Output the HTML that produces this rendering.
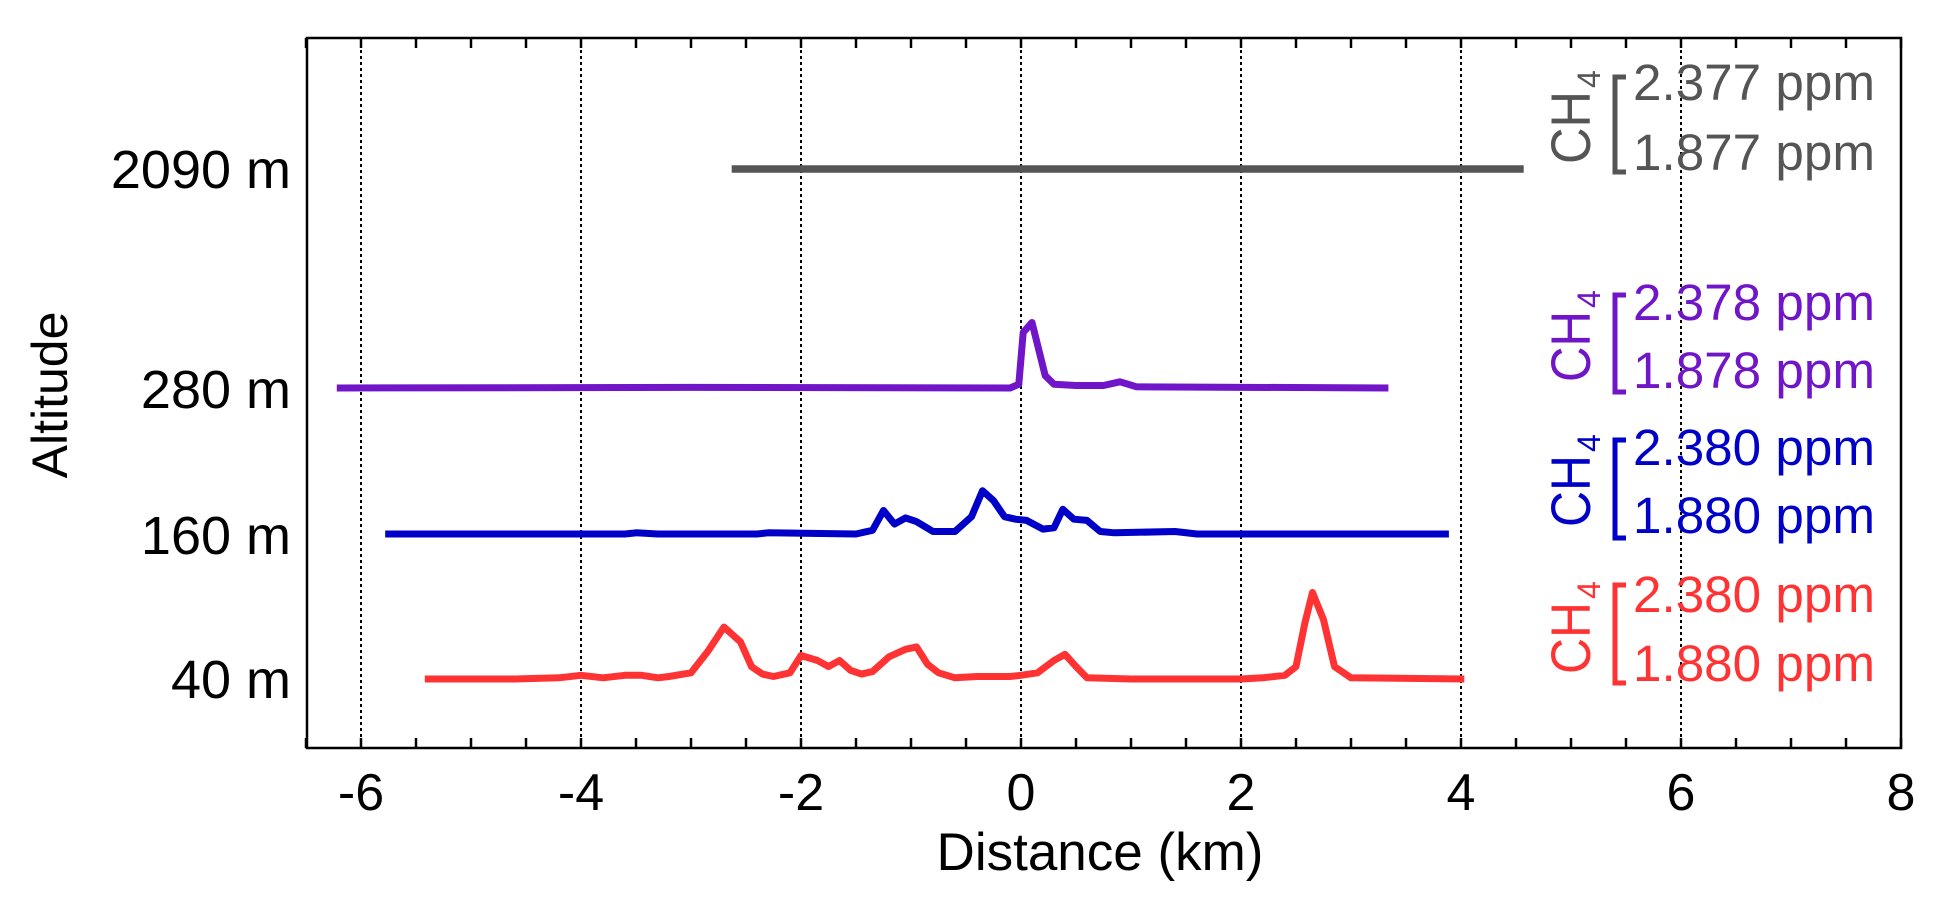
<!DOCTYPE html>
<html><head><meta charset="utf-8"><style>
html,body{margin:0;padding:0;background:#fff;}
svg{display:block;font-family:"Liberation Sans",Arial,sans-serif;}
</style></head><body>
<svg id="s" width="1938" height="899" viewBox="0 0 1938 899" xmlns="http://www.w3.org/2000/svg">
<rect x="0" y="0" width="1938" height="899" fill="#fff"/>
<g id="grid" stroke="#000" stroke-width="2" stroke-dasharray="3,3"></g>
<g id="ticks" stroke="#000" stroke-width="2.5"></g>
<rect x="307" y="38" width="1594" height="710" fill="none" stroke="#000" stroke-width="2.5"/>
<g font-size="52" text-anchor="middle" fill="#000">
<text x="361" y="810">-6</text><text x="581" y="810">-4</text><text x="801" y="810">-2</text>
<text x="1021" y="810">0</text><text x="1241" y="810">2</text><text x="1461" y="810">4</text>
<text x="1681" y="810">6</text><text x="1901" y="810">8</text>
<text x="1100" y="870" font-size="53">Distance (km)</text>
</g>
<g font-size="54" text-anchor="end" fill="#000">
<text x="291" y="188">2090 m</text><text x="291" y="408">280 m</text>
<text x="291" y="554">160 m</text><text x="291" y="698">40 m</text>
</g>
<text transform="translate(67,395) rotate(-90)" font-size="50" text-anchor="middle">Altitude</text>
<g id="series" fill="none" stroke-linejoin="round"></g>
<g id="legend"></g>
</svg>
<script>
var NS="http://www.w3.org/2000/svg";
function X(d){return 361+(d+6)*110;}
function el(p,t,a,txt){var e=document.createElementNS(NS,t);for(var k in a)e.setAttribute(k,a[k]);if(txt)e.textContent=txt;p.appendChild(e);return e;}
var g=document.getElementById('grid');
for(var d=-6;d<=6;d+=2){el(g,'line',{x1:X(d),x2:X(d),y1:38,y2:748});}
var t=document.getElementById('ticks');
for(var d=-6.5;d<=8.001;d+=0.5){var x=X(d);el(t,'line',{x1:x,x2:x,y1:748,y2:738});el(t,'line',{x1:x,x2:x,y1:38,y2:48});}
var S=document.getElementById('series');
function line(pts,base,col,w){var s=pts.map(function(p){return X(p[0]).toFixed(1)+','+(base-p[1]*1.236).toFixed(1);}).join(' ');el(S,'polyline',{points:s,stroke:col,'stroke-width':w||7});}
line([[-2.63,0],[4.57,0]],169,'#555555',7.5);
line([[-6.22,0],[-3,0.5],[-0.1,0],[-0.02,3],[0.02,45],[0.1,53],[0.22,10],[0.3,3],[0.5,2],[0.75,2],[0.9,5],[1.05,1],[3.34,0]],388,'#7015c8');
line([[-5.78,0],[-3.6,0],[-3.5,1],[-3.3,0],[-2.4,0],[-2.3,1],[-1.5,0],[-1.35,3],[-1.25,19],[-1.15,8],[-1.05,13],[-0.95,10],[-0.8,2],[-0.6,2],[-0.45,14],[-0.35,35],[-0.25,27],[-0.15,14],[-0.05,12],[0.05,11],[0.2,4],[0.3,5],[0.38,20],[0.48,12],[0.6,11],[0.72,2],[0.85,1],[1.4,2],[1.6,0],[3.89,0]],534,'#0000c8');
line([[-5.42,0],[-4.6,0],[-4.2,1],[-4.0,3],[-3.8,1],[-3.6,3],[-3.45,3],[-3.3,1],[-3.2,2],[-3.0,5],[-2.85,22],[-2.7,42],[-2.55,30],[-2.45,10],[-2.35,4],[-2.25,2],[-2.1,5],[-2.0,19],[-1.85,15],[-1.75,10],[-1.65,15],[-1.55,7],[-1.45,4],[-1.35,6],[-1.2,18],[-1.05,24],[-0.95,26],[-0.85,12],[-0.75,5],[-0.6,1],[-0.4,2],[-0.1,2],[0.0,3],[0.15,5],[0.3,15],[0.4,20],[0.5,10],[0.6,1],[1.0,0],[2.0,0],[2.2,1],[2.4,3],[2.5,10],[2.58,45],[2.65,70],[2.75,48],[2.85,10],[3.0,1],[4.03,0]],679,'#ff3333');
var L=document.getElementById('legend');
function leg(col,top,bot,b1,b2,chTop,chBot,v1,v2){
 el(L,'path',{d:'M1626,'+top+' H1615 V'+bot+' H1626',fill:'none',stroke:col,'stroke-width':5});
 el(L,'text',{x:1633,y:b1,'font-size':51,fill:col,textLength:242,lengthAdjust:'spacingAndGlyphs'},v1+' ppm');
 el(L,'text',{x:1633,y:b2,'font-size':51,fill:col,textLength:242,lengthAdjust:'spacingAndGlyphs'},v2+' ppm');
 var tx=el(L,'text',{transform:'translate(1590,'+chBot+') rotate(-90)','font-size':56,fill:col});
 var a=document.createElementNS(NS,'tspan');a.setAttribute('textLength',chBot-chTop);a.setAttribute('lengthAdjust','spacingAndGlyphs');a.textContent='CH';tx.appendChild(a);
 var b=document.createElementNS(NS,'tspan');b.setAttribute('font-size',32);b.setAttribute('dy',10);b.setAttribute('dx',3);b.textContent='4';tx.appendChild(b);
}
leg('#555555',77,172,100,170,91,164,'2.377','1.877');
leg('#7015c8',295,392,320,388,311,382,'2.378','1.878');
leg('#0000c8',440,538,465,533,455,527,'2.380','1.880');
leg('#ff3333',585,683,612,681,602,674,'2.380','1.880');
</script>
</body></html>
